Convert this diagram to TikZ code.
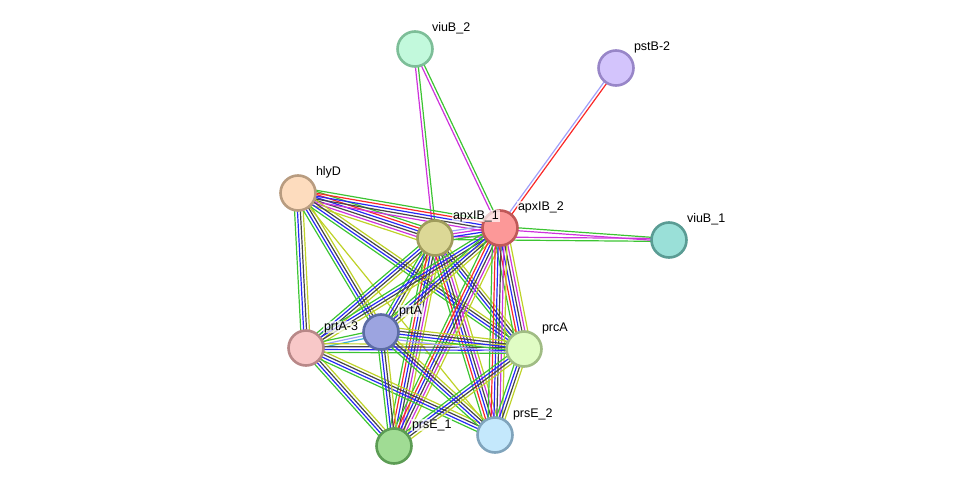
\documentclass[tikz,border=0pt]{standalone}
\usepackage{fontspec}
\setmainfont{Liberation Sans}
\usetikzlibrary{calc}
\pgfdeclarelayer{background}
\pgfsetlayers{background,main}

% evidence channel colours
\definecolor{evGreen}{RGB}{60,196,50}
\definecolor{evRed}{RGB}{250,40,40}
\definecolor{evBlue}{RGB}{40,40,245}
\definecolor{evBlack}{RGB}{70,70,70}
\definecolor{evMag}{RGB}{206,50,220}
\definecolor{evCyan}{RGB}{60,175,215}
\definecolor{evYel}{RGB}{190,210,40}
\definecolor{evLav}{RGB}{160,160,250}

% protein fills and rims
\definecolor{fViuBb}{RGB}{194,249,220}\definecolor{dViuBb}{RGB}{125,190,152}
\definecolor{fPstB}{RGB}{211,196,252}\definecolor{dPstB}{RGB}{152,134,200}
\definecolor{fHlyD}{RGB}{253,220,190}\definecolor{dHlyD}{RGB}{184,156,128}
\definecolor{fApxA}{RGB}{220,216,150}\definecolor{dApxA}{RGB}{160,156,92}
\definecolor{fApxB}{RGB}{252,152,152}\definecolor{dApxB}{RGB}{192,88,88}
\definecolor{fViuBa}{RGB}{154,224,216}\definecolor{dViuBa}{RGB}{90,156,148}
\definecolor{fPrtAc}{RGB}{248,200,200}\definecolor{dPrtAc}{RGB}{184,136,136}
\definecolor{fPrtA}{RGB}{156,164,224}\definecolor{dPrtA}{RGB}{92,108,164}
\definecolor{fPrcA}{RGB}{224,252,196}\definecolor{dPrcA}{RGB}{160,188,132}
\definecolor{fPrsEa}{RGB}{160,220,148}\definecolor{dPrsEa}{RGB}{92,156,84}
\definecolor{fPrsEb}{RGB}{196,232,252}\definecolor{dPrsEb}{RGB}{128,164,188}

\tikzset{
  prot/.style n args={2}{circle, minimum size=35pt, inner sep=0pt,
    line width=2.6pt, fill=#1, draw=#2},
  plabel/.style={anchor=west, font=\fontsize{12.5}{14}\selectfont,
    inner sep=0.8pt, fill=white, fill opacity=0.7, text opacity=1},
  evline/.style={line width=1.2pt}
}

% a bundle of parallel evidence lines between two proteins
\newcommand\edgebundle[3]{%
  \foreach \cc [count=\ii] in {#3} {\xdef\nlines{\ii}}%
  \foreach \cc [count=\ii] in {#3} {%
    \pgfmathsetmacro\off{(\ii-(\nlines+1)/2)*2.9}%
    \draw[evline,\cc] ($(#1)!\off pt!90:(#2)$) -- ($(#2)!\off pt!-90:(#1)$);}%
}

\begin{document}
\begin{tikzpicture}[x=1pt,y=-1pt]
\useasboundingbox (0,0) rectangle (976,492);

% proteins
\node[prot={fViuBb}{dViuBb}] (viuBb) at (415,49) {};
\node[prot={fPstB}{dPstB}]   (pstB)  at (616,68) {};
\node[prot={fHlyD}{dHlyD}]   (hlyD)  at (298,193) {};
\node[prot={fApxA}{dApxA}]   (apxA)  at (435,238) {};
\node[prot={fApxB}{dApxB}]   (apxB)  at (500,228) {};
\node[prot={fViuBa}{dViuBa}] (viuBa) at (669,240) {};
\node[prot={fPrtAc}{dPrtAc}] (prtAc) at (306,348) {};
\node[prot={fPrtA}{dPrtA}]   (prtA)  at (381,332) {};
\node[prot={fPrcA}{dPrcA}]   (prcA)  at (524,349) {};
\node[prot={fPrsEa}{dPrsEa}] (prsEa) at (394,446) {};
\node[prot={fPrsEb}{dPrsEb}] (prsEb) at (495,435) {};

% interactions
\begin{pgfonlayer}{background}
\edgebundle{viuBb}{apxA}{evMag,evGreen}
\edgebundle{viuBb}{apxB}{evMag,evGreen}
\edgebundle{pstB}{apxB}{evLav,evRed}
\edgebundle{apxA}{viuBa}{evGreen,evMag}
\edgebundle{apxB}{viuBa}{evMag,evGreen}
\edgebundle{hlyD}{apxA}{evYel,evMag,evBlack,evBlue,evRed,evGreen}
\edgebundle{hlyD}{apxB}{evMag,evBlack,evBlue,evRed,evGreen}
\edgebundle{hlyD}{prtAc}{evGreen,evBlue,evBlack,evYel}
\edgebundle{hlyD}{prtA}{evGreen,evBlue,evBlack,evYel}
\edgebundle{hlyD}{prcA}{evGreen,evBlue,evBlack,evYel}
\edgebundle{hlyD}{prsEb}{evYel}
\edgebundle{apxA}{apxB}{evGreen,evBlue,evMag,evLav}
\edgebundle{apxA}{prtAc}{evGreen,evBlue,evBlack,evYel}
\edgebundle{apxA}{prtA}{evGreen,evBlue,evBlack,evYel}
\edgebundle{apxA}{prcA}{evGreen,evBlue,evBlack,evYel}
\edgebundle{apxA}{prsEa}{evGreen,evRed,evBlue,evBlack,evMag,evYel}
\edgebundle{apxA}{prsEb}{evGreen,evRed,evBlue,evBlack,evMag,evYel}
\edgebundle{apxB}{prtAc}{evGreen,evBlue,evBlack,evYel}
\edgebundle{apxB}{prtA}{evGreen,evBlue,evBlack,evYel}
\edgebundle{apxB}{prcA}{evGreen,evRed,evBlue,evBlack,evMag,evYel}
\edgebundle{apxB}{prsEa}{evGreen,evRed,evBlue,evBlack,evMag,evYel}
\edgebundle{apxB}{prsEb}{evGreen,evRed,evBlue,evBlack,evMag,evYel}
\edgebundle{prtAc}{prtA}{evCyan,evLav,evGreen}
\edgebundle{prtAc}{prcA}{evGreen,evBlue,evBlack,evYel}
\edgebundle{prtAc}{prsEa}{evGreen,evBlue,evBlack,evYel}
\edgebundle{prtAc}{prsEb}{evGreen,evBlue,evBlack,evYel}
\edgebundle{prtA}{prcA}{evLav,evGreen,evBlue,evBlack,evYel}
\edgebundle{prtA}{prsEa}{evGreen,evBlue,evBlack,evYel}
\edgebundle{prtA}{prsEb}{evGreen,evBlue,evBlack,evYel}
\edgebundle{prcA}{prsEa}{evGreen,evBlue,evBlack,evYel}
\edgebundle{prcA}{prsEb}{evGreen,evBlue,evBlack,evYel}
\end{pgfonlayer}

% names
\node[plabel] (lviuBb) at (431,28)  {viuB\_2};
\node[plabel] (lpstB)  at (633,47)  {pstB-2};
\node[plabel] (lhlyD)  at (315,172) {hlyD};
\node[plabel] (lapxA)  at (452,216) {apxIB\_1};
\node[plabel] (lapxB)  at (517,207) {apxIB\_2};
\node[plabel] (lviuBa) at (686,219) {viuB\_1};
\node[plabel] (lprtAc) at (323,327) {prtA-3};
\node[plabel] (lprtA)  at (398,311) {prtA};
\node[plabel] (lprcA)  at (541,328) {prcA};
\node[plabel] (lprsEa) at (411,425) {prsE\_1};
\node[plabel] (lprsEb) at (512,414) {prsE\_2};
\end{tikzpicture}
\end{document}
